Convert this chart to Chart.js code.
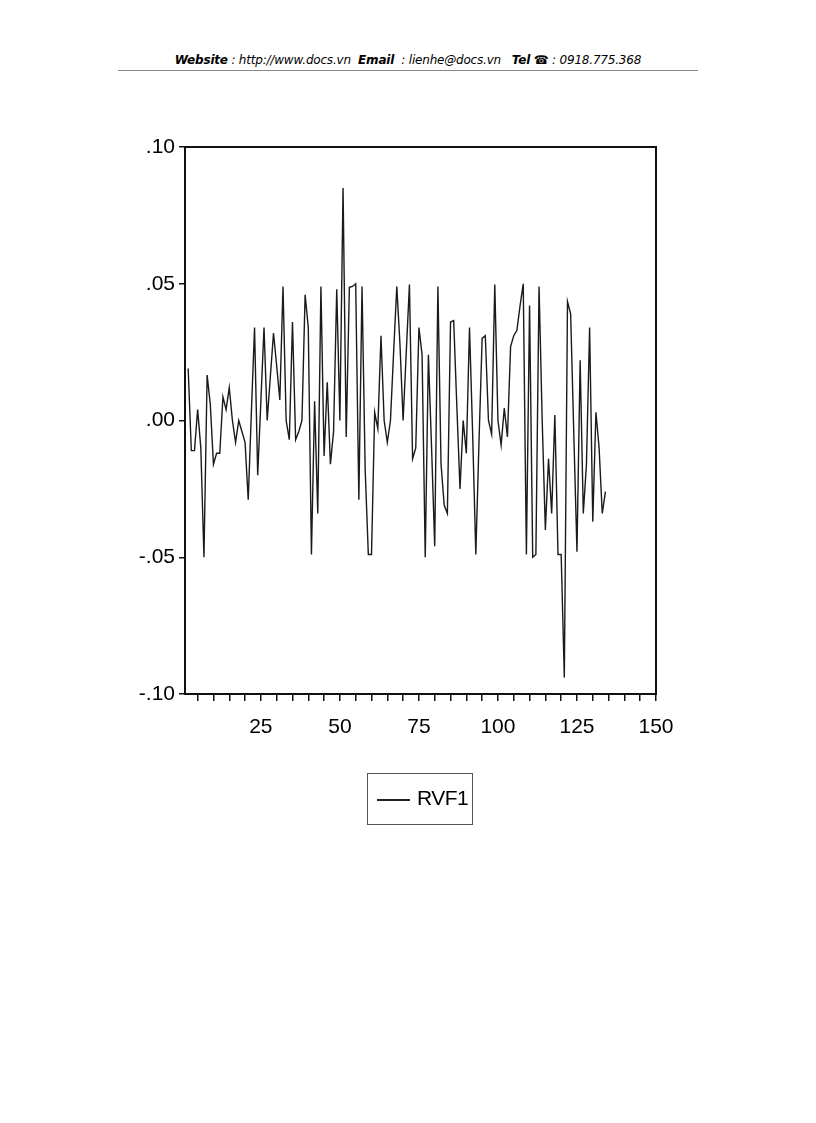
<!DOCTYPE html>
<html>
<head>
<meta charset="utf-8">
<script src="https://cdn.jsdelivr.net/npm/chart.js@4/dist/chart.umd.min.js"></script>
<style>
  body { margin: 0; background: #fff; }
  #page { position: relative; width: 816px; height: 1123px; background: #fff; }
  #header {
    position: absolute; left: 118px; top: 53px; width: 580px; text-align: center;
    font-family: 'DejaVu Sans', sans-serif; font-size: 12px; font-style: italic; color: #000;
    letter-spacing: -0.2px;
  }
  #header b { font-weight: bold; }
  #rule { position: absolute; left: 118px; top: 70px; width: 580px; border-top: 1px solid #888; }
  #wrap { position: absolute; left: 0; top: 0; width: 816px; height: 800px; }
  #legend {
    position: absolute; left: 367px; top: 773px; width: 106px; height: 52px;
    border: 1px solid #555; box-sizing: border-box;
    font-family: 'Liberation Sans', Arial, sans-serif; font-size: 21px; color: #000;
  }
  #legend .sw { position: absolute; left: 9px; top: 25px; width: 33px; border-top: 2px solid #222; }
  #legend .tx { position: absolute; left: 49px; top: 12px; letter-spacing: -0.5px; }
</style>
</head>
<body>
<div id="page">
  <div id="header"><b>Website</b> : http://www.docs.vn&nbsp; <b>Email</b> &nbsp;: lienhe@docs.vn &nbsp; <b>Tel</b> ☎ : 0918.775.368</div>
  <div id="rule"></div>
  <div id="wrap"><canvas id="c"></canvas></div>
  <div id="legend"><div class="sw"></div><div class="tx">RVF1</div></div>
</div>
<script>
// first observation number of the series
const firstObs = 2

const rvf1 = [
  0.019, -0.011, -0.011, 0.004, -0.010, -0.050, 0.0166, 0.006, -0.016, -0.012,
  -0.012, 0.0086, 0.004, 0.012, 0.000, -0.008, 0.000, -0.004, -0.008, -0.029,
  0.003, 0.034, -0.020, 0.007, 0.034, 0.000, 0.016, 0.032, 0.020, 0.0075,
  0.049, 0.000, -0.007, 0.036, -0.007, -0.004, 0.000, 0.046, 0.034, -0.049,
  0.007, -0.034, 0.049, -0.013, 0.014, -0.016, -0.004, 0.048, 0.000, 0.085,
  -0.006, 0.0487, 0.049, 0.050, -0.029, 0.049, -0.018, -0.049, -0.049, 0.003,
  -0.003, 0.031, 0.000, -0.008, 0.000, 0.025, 0.049, 0.028, 0.000, 0.025,
  0.0497, -0.014, -0.010, 0.034, 0.024, -0.050, 0.024, -0.010, -0.046, 0.049,
  -0.016, -0.031, -0.034, 0.036, 0.0365, 0.005, -0.025, 0.000, -0.012, 0.034,
  -0.005, -0.049, -0.008, 0.030, 0.031, 0.000, -0.005, 0.0497, 0.000, -0.009,
  0.0045, -0.006, 0.027, 0.031, 0.033, 0.042, 0.050, -0.049, 0.042, -0.050,
  -0.049, 0.049, 0.000, -0.040, -0.014, -0.034, 0.002, -0.049, -0.049, -0.094,
  0.0435, 0.039, -0.005, -0.048, 0.022, -0.034, -0.016, 0.034, -0.037, 0.003,
  -0.010, -0.034, -0.026,
]

const obs = rvf1.map((v, i) => firstObs + i)

const xLabels = [25, 50, 75, 100, 125, 150]
const yLabels = [-0.10, -0.05, 0.00, 0.05, 0.10]

const frame = {
  id: 'frame',
  afterDraw(chart) {
    const a = chart.chartArea
    const ctx = chart.ctx
    ctx.save()
    ctx.strokeStyle = '#111'
    ctx.lineWidth = 2
    ctx.strokeRect(a.left, a.top, a.right - a.left, a.bottom - a.top)
    ctx.restore()
  },
}

const fnt = { family: "'Liberation Sans', Arial, sans-serif", size: 21 }

new Chart(document.getElementById('c'), {
  type: 'line',
  data: {
    datasets: [
      {
        label: 'RVF1',
        data: obs.map((x, i) => ({ x: x, y: rvf1[i] })),
        borderColor: '#1a1a1a',
        borderWidth: 1.4,
        pointRadius: 0,
        tension: 0,
      },
    ],
  },
  options: {
    responsive: true,
    maintainAspectRatio: false,
    animation: false,
    layout: { padding: { left: 125, top: 147, right: 160, bottom: 56 } },
    plugins: { legend: { display: false }, tooltip: { enabled: false } },
    scales: {
      x: {
        type: 'linear',
        min: 1,
        max: 150,
        afterFit(s) { s.height = 50 },
        afterBuildTicks(s) {
          const t = []
          for (let v = 5; v <= 150; v += 5) t.push({ value: v })
          s.ticks = t
        },
        ticks: {
          color: '#000',
          font: fnt,
          padding: 14,
          maxRotation: 0,
          autoSkip: false,
          callback: (v) => (xLabels.includes(v) ? String(v) : ''),
        },
        grid: { drawOnChartArea: false, tickLength: 7, color: '#111', lineWidth: 1.5 },
        border: { display: false },
      },
      y: {
        min: -0.1,
        max: 0.1,
        afterFit(s) { s.width = 60 },
        afterBuildTicks(s) { s.ticks = yLabels.map((v) => ({ value: v })) },
        ticks: {
          color: '#000',
          font: fnt,
          padding: 4,
          callback: (v) => {
            const s = Math.abs(v).toFixed(2).replace(/^0/, '')
            return v < -1e-9 ? '-' + s : s
          },
        },
        grid: { drawOnChartArea: false, tickLength: 6, color: '#111', lineWidth: 1.5 },
        border: { display: false },
      },
    },
  },
  plugins: [frame],
})
</script>
</body>
</html>
